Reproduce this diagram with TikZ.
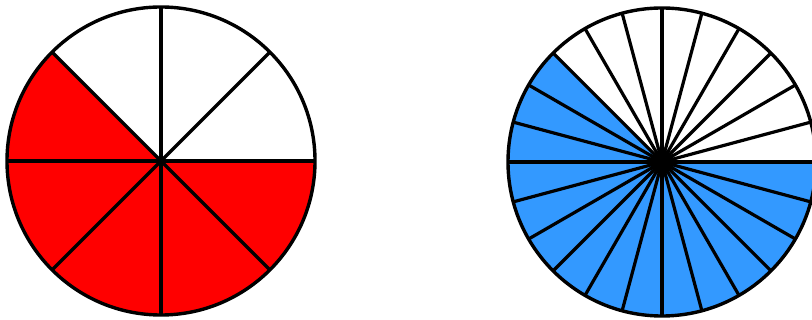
\documentclass[tikz,border=0pt]{standalone}
\usepackage{xcolor}
\usetikzlibrary{calc}
\definecolor{pieblue}{HTML}{3399FF}
\definecolor{piered}{HTML}{FF0000}

\begin{document}
\begin{tikzpicture}[x=0.5pt,y=0.5pt,line width=1.7pt,line join=round]
\def\radius{154}
\def\shadestart{135}
\useasboundingbox (0,0) rectangle (812,320);
\clip (0,0) rectangle (812,320);
\coordinate (EighthsCentre) at (161,159);
\coordinate (TwentyFourthsCentre) at (662,158);

% five eighths in red
\fill[piered] (EighthsCentre) -- ++(\shadestart:\radius)
    arc[start angle=\shadestart,end angle=360,radius=\radius] -- cycle;
\foreach \angle in {0,45,...,315}
    \draw (EighthsCentre) -- ++(\angle:\radius);
\draw (EighthsCentre) circle[radius=\radius];

% fifteen twenty-fourths in blue
\fill[pieblue] (TwentyFourthsCentre) -- ++(\shadestart:\radius)
    arc[start angle=\shadestart,end angle=360,radius=\radius] -- cycle;
\foreach \angle in {0,15,...,345}
    \draw[line width=1.6pt] (TwentyFourthsCentre) -- ++(\angle:\radius);
\fill (TwentyFourthsCentre) circle[radius=12];
\draw (TwentyFourthsCentre) circle[radius=\radius];
\end{tikzpicture}
\end{document}
